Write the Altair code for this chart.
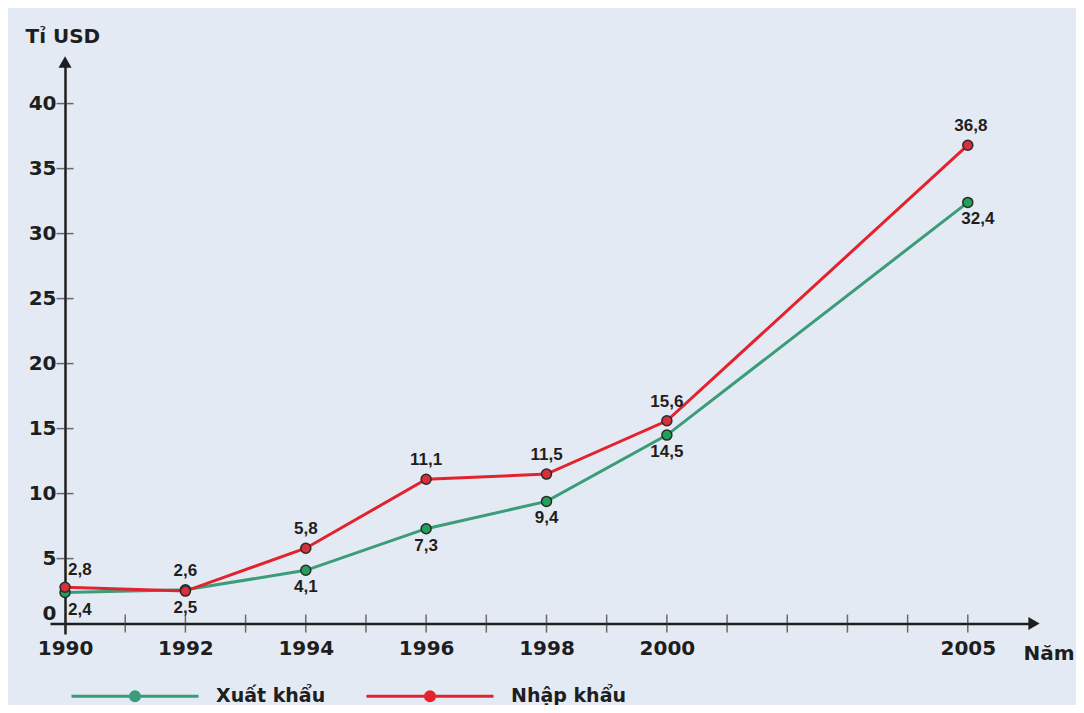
import altair as alt
import pandas as pd

# ---- data ----
years = [1990, 1992, 1994, 1996, 1998, 2000, 2005]
xuat_khau = [2.4, 2.6, 4.1, 7.3, 9.4, 14.5, 32.4]
nhap_khau = [2.8, 2.5, 5.8, 11.1, 11.5, 15.6, 36.8]
series_names = ["Xuất khẩu", "Nhập khẩu"]
line_colors = ["#3a9c78", "#e2232e"]
point_colors = ["#22a05a", "#d8303a"]
x_label_years = [1990, 1992, 1994, 1996, 1998, 2000, 2005]
x_tick_years = list(range(1990, 2006))
y_ticks = [0, 5, 10, 15, 20, 25, 30, 35, 40]
X_MIN, X_MAX = 1989.75, 2006.1
Y_MIN, Y_MAX = -0.8, 43.2

FONT = "DejaVu Sans"
LFONT = "Liberation Sans"
INK = "#1e1e1e"

rows = []
for s, vals in zip(series_names, [xuat_khau, nhap_khau]):
    for yr, v in zip(years, vals):
        rows.append({"year": yr, "value": v, "series": s,
                     "label": f"{v:.1f}".replace(".", ",")})
df = pd.DataFrame(rows)

x_enc = alt.X("year:Q",
              scale=alt.Scale(domain=[X_MIN, X_MAX], nice=False, zero=False),
              axis=alt.Axis(values=x_label_years, format="d", ticks=False, grid=False,
                            offset=-10.4,
                            domainColor=INK, domainWidth=2.5,
                            labelFont=FONT, labelFontSize=20, labelFontWeight="bold",
                            labelColor=INK, labelPadding=15, labelFlush=False,
                            title="Năm", titleX=973, titleY=36, titleAlign="left",
                            titleBaseline="alphabetic", titleFont=FONT, titleFontSize=20,
                            titleFontWeight="bold", titleColor=INK))
y_enc = alt.Y("value:Q",
              scale=alt.Scale(domain=[Y_MIN, Y_MAX], nice=False, zero=False),
              axis=alt.Axis(values=y_ticks, offset=-15, ticks=False, grid=False,
                            domainColor=INK, domainWidth=2.5,
                            labelFont=FONT, labelFontSize=20, labelFontWeight="bold",
                            labelColor=INK, labelPadding=9, labelFlush=False,
                            labelBaseline=alt.ExprRef("datum.value == 0 ? 'bottom' : 'middle'"),
                            title="Tỉ USD", titleAngle=0, titleX=-40, titleY=-20,
                            titleAlign="left", titleBaseline="alphabetic",
                            titleFont=FONT, titleFontSize=20, titleFontWeight="bold",
                            titleColor=INK))

LEGEND_PATH = ("M-1,0H1"
               "M-0.071,0A0.071,0.071,0,1,0,0.071,0A0.071,0.071,0,1,0,-0.071,0"
               "M-0.024,0A0.024,0.024,0,1,0,0.024,0A0.024,0.024,0,1,0,-0.024,0")

color_enc = alt.Color("series:N",
                      scale=alt.Scale(domain=series_names, range=line_colors),
                      legend=alt.Legend(title=None, orient="none", legendX=20, legendY=569,
                                        direction="horizontal", symbolType=LEGEND_PATH,
                                        symbolSize=16129, symbolStrokeWidth=3,
                                        labelFont=FONT, labelFontSize=19,
                                        labelFontWeight="bold", labelColor=INK,
                                        labelOffset=16, columnPadding=34, padding=0))

base = alt.Chart(df)

lines = base.mark_line(strokeWidth=3).encode(x=x_enc, y=y_enc, color=color_enc,
                                             order=alt.Order("year:Q"))
points = base.mark_point(filled=True, size=100, stroke="#2a2a2a", strokeWidth=1.5,
                         opacity=1).encode(
    x=x_enc, y=y_enc,
    fill=alt.Fill("series:N", scale=alt.Scale(domain=series_names, range=point_colors),
                  legend=None))

tick_x = alt.Chart(pd.DataFrame({"year": x_tick_years, "value": [0] * len(x_tick_years)})).mark_tick(
    orient="vertical", size=18, thickness=1.5, color="#333").encode(x=x_enc, y=y_enc)
tick_y = alt.Chart(pd.DataFrame({"year": [1990] * (len(y_ticks) - 1), "value": y_ticks[1:]})).mark_tick(
    orient="horizontal", size=17, thickness=1.5, color="#333").encode(x=x_enc, y=y_enc)
arrows = alt.Chart(pd.DataFrame({"year": [1990, X_MAX], "value": [Y_MAX, 0],
                                 "shape": ["triangle-up", "triangle-right"]})).mark_point(
    filled=True, size=170, color=INK, opacity=1).encode(
    x=x_enc, y=y_enc, shape=alt.Shape("shape:N", scale=None))


def labels(cond, **kw):
    args = dict(font=LFONT, fontSize=17, fontWeight="bold", color=INK)
    args.update(kw)
    return base.transform_filter(cond).mark_text(**args).encode(
        x=x_enc, y=y_enc, text="label:N")

imp = "datum.series == 'Nhập khẩu'"
exp = "datum.series == 'Xuất khẩu'"
text_layers = [
    labels(f"{imp} && datum.year > 1992 && datum.year < 2005", baseline="alphabetic", dy=-14),
    labels(f"{imp} && datum.year == 2005", baseline="alphabetic", dy=-14, dx=3),
    labels(f"{imp} && datum.year == 1990", baseline="alphabetic", dy=-12, dx=3, align="left"),
    labels(f"{imp} && datum.year == 1992", baseline="top", dy=9),
    labels(f"{exp} && datum.year > 1992 && datum.year < 2005", baseline="top", dy=9),
    labels(f"{exp} && datum.year == 2005", baseline="top", dy=9, dx=10),
    labels(f"{exp} && datum.year == 1990", baseline="top", dy=10, dx=3, align="left"),
    labels(f"{exp} && datum.year == 1992", baseline="alphabetic", dy=-14),
]

chart = alt.layer(tick_x, tick_y, lines, points, arrows, *text_layers).properties(
    width=984, height=572,
    autosize=alt.AutoSizeParams(type="none"),
    padding={"left": 42, "top": 54, "right": 42, "bottom": 71},
    background="#e4eaf3",
).configure_view(stroke=None)

chart.save("out.html", embed_options={"renderer": "svg", "actions": False})
